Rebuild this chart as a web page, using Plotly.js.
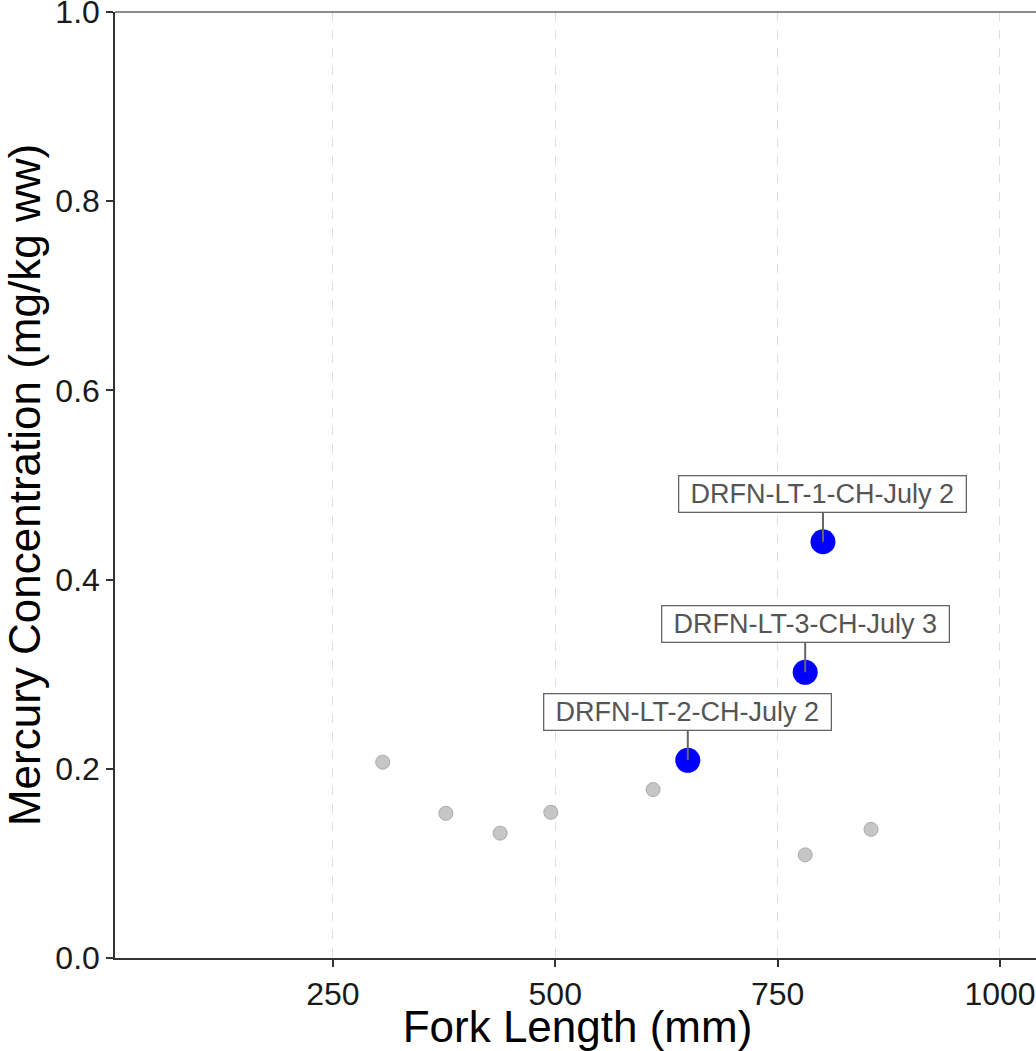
<!DOCTYPE html>
<html>
<head>
<meta charset="utf-8">
<script src="https://cdn.plot.ly/plotly-3.0.1.min.js"></script>
<style>
html,body{margin:0;padding:0;overflow:hidden;background:#fff;}
#chart{width:1046px;height:1051px;}
</style>
</head>
<body>
<div id="chart"></div>
<script>
// Background samples (gray)
const otherLength = [306, 377, 438, 495, 610, 781, 855];
const otherMercury = [0.207, 0.153, 0.132, 0.154, 0.178, 0.109, 0.136];
// Highlighted samples (blue)
const highlightLength = [649, 781, 801];
const highlightMercury = [0.209, 0.302, 0.440];
const highlightLabels = ["DRFN-LT-2-CH-July 2", "DRFN-LT-3-CH-July 3", "DRFN-LT-1-CH-July 2"];
const xTicks = [250, 500, 750, 1000];
const yTicks = [0.0, 0.2, 0.4, 0.6, 0.8, 1.0];
const yTickText = ["0.0", "0.2", "0.4", "0.6", "0.8", "1.0"];

const font = "Liberation Sans, Arial, sans-serif";

const traces = [
  {
    x: otherLength, y: otherMercury, type: "scatter", mode: "markers",
    marker: {size: 14, color: "#c6c6c6", line: {color: "#a9a9a9", width: 1}},
    hoverinfo: "x+y", showlegend: false
  },
  {
    x: highlightLength, y: highlightMercury, type: "scatter", mode: "markers",
    marker: {size: 25, color: "#0000ff", line: {width: 0}},
    text: highlightLabels, hoverinfo: "text+x+y", showlegend: false
  }
];

const annotations = highlightLength.map((x, i) => ({
  x: x, y: highlightMercury[i], xref: "x", yref: "y",
  text: highlightLabels[i],
  showarrow: true, arrowhead: 0, arrowwidth: 2, arrowcolor: "#666666",
  ax: 0, ay: -48, standoff: 0, startstandoff: 0,
  width: 284, height: 33,
  bgcolor: "#ffffff", bordercolor: "#666666", borderwidth: 1.3, borderpad: 1,
  font: {family: font, size: 27, color: "#555555"}
}));

const layout = {
  width: 1046, height: 1051,
  margin: {l: 115, r: 6, t: 12, b: 93},
  paper_bgcolor: "#ffffff", plot_bgcolor: "#ffffff",
  font: {family: font, color: "#000000"},
  xaxis: {
    range: [5, 1045], tickvals: xTicks, ticktext: xTicks.map(String),
    showgrid: true, gridcolor: "#dedede", griddash: "dash", gridwidth: 1,
    zeroline: false, showline: true, linecolor: "#333333", linewidth: 1.5,
    ticks: "outside", ticklen: 7, tickwidth: 2, tickcolor: "#333333",
    ticklabeloverflow: "allow",
    tickfont: {family: font, size: 32, color: "#1a1a1a"},
    title: {text: "Fork Length (mm)", font: {family: font, size: 44, color: "#000000"}, standoff: 2}
  },
  yaxis: {
    range: [0, 1], tickvals: yTicks, ticktext: yTickText,
    showgrid: false, zeroline: false, showline: true, linecolor: "#333333", linewidth: 1.5,
    ticks: "outside", ticklen: 7, tickwidth: 2, tickcolor: "#333333",
    ticklabeloverflow: "allow",
    tickfont: {family: font, size: 32, color: "#1a1a1a"},
    title: {text: "Mercury Concentration (mg/kg ww)", font: {family: font, size: 44, color: "#000000"}, standoff: 8}
  },
  shapes: [{
    type: "line", xref: "paper", yref: "paper", x0: 0, x1: 1, y0: 1, y1: 1,
    line: {color: "#666666", width: 1.5}
  }],
  annotations: annotations
};

Plotly.newPlot("chart", traces, layout, {displayModeBar: false, responsive: false});
</script>
</body>
</html>
